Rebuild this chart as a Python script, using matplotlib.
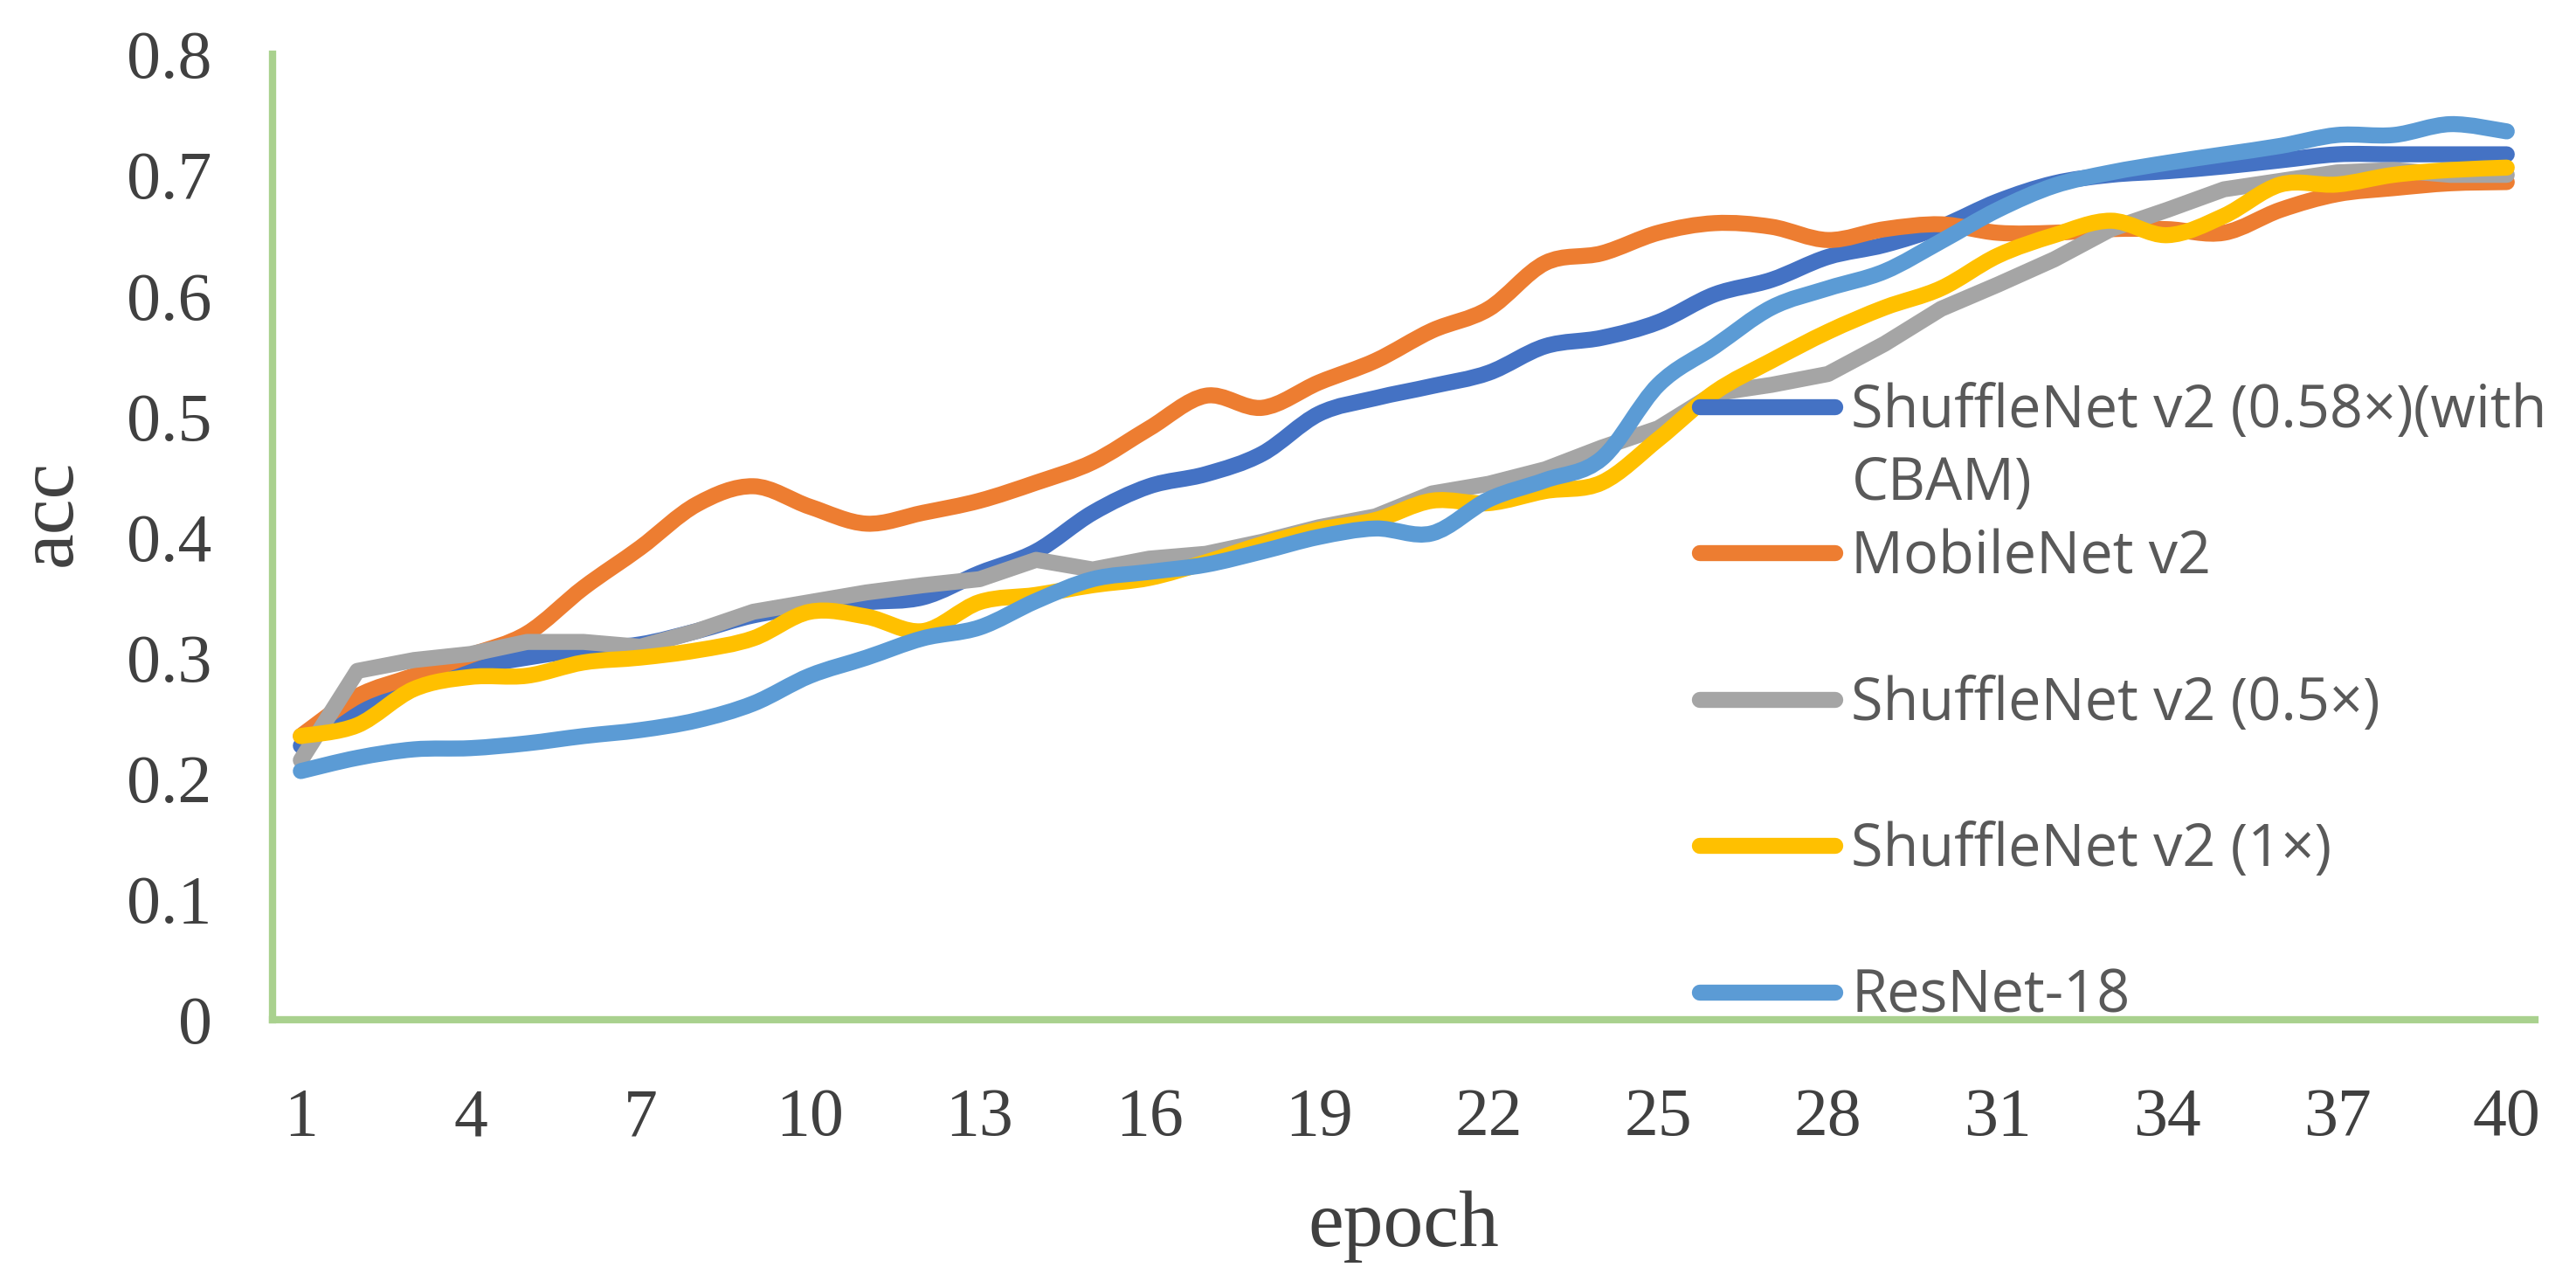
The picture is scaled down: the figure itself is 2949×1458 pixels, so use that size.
import matplotlib
matplotlib.use('Agg')
import matplotlib.pyplot as plt
from matplotlib.path import Path
from matplotlib.patches import PathPatch
from matplotlib.lines import Line2D
from matplotlib.font_manager import FontProperties

epochs = list(range(1, 41))

labels = ['ShuffleNet v2 (0.58×)(with', 'MobileNet v2', 'ShuffleNet v2 (0.5×)',
          'ShuffleNet v2 (1×)', 'ResNet-18']
colors = ['#4472C4', '#ED7D31', '#A5A5A5', '#FFC000', '#5B9BD5']

cbam = [0.227, 0.258, 0.282, 0.292, 0.300, 0.307, 0.311, 0.322, 0.335, 0.342,
        0.346, 0.350, 0.370, 0.388, 0.420, 0.442, 0.452, 0.469, 0.502, 0.515,
        0.525, 0.536, 0.558, 0.565, 0.578, 0.601, 0.613, 0.632, 0.642, 0.657,
        0.678, 0.693, 0.700, 0.703, 0.707, 0.712, 0.717, 0.717, 0.717, 0.717]
mobilenet = [0.235, 0.268, 0.285, 0.302, 0.320, 0.358, 0.391, 0.427, 0.442, 0.425,
             0.411, 0.420, 0.430, 0.445, 0.462, 0.490, 0.517, 0.507, 0.528, 0.546,
             0.571, 0.589, 0.627, 0.635, 0.652, 0.660, 0.657, 0.646, 0.655, 0.659,
             0.652, 0.652, 0.655, 0.655, 0.652, 0.671, 0.684, 0.689, 0.693, 0.694]
shuffle05 = [0.215, 0.289, 0.298, 0.303, 0.313, 0.313, 0.309, 0.322, 0.338, 0.346,
             0.354, 0.360, 0.365, 0.381, 0.373, 0.382, 0.386, 0.396, 0.408, 0.417,
             0.436, 0.444, 0.456, 0.474, 0.490, 0.519, 0.526, 0.535, 0.560, 0.589,
             0.609, 0.630, 0.655, 0.671, 0.688, 0.695, 0.702, 0.704, 0.700, 0.700]
shuffle1 = [0.235, 0.244, 0.274, 0.284, 0.285, 0.296, 0.300, 0.306, 0.316, 0.338,
            0.334, 0.322, 0.346, 0.352, 0.360, 0.366, 0.379, 0.394, 0.406, 0.414,
            0.430, 0.428, 0.438, 0.445, 0.481, 0.520, 0.546, 0.570, 0.590, 0.606,
            0.633, 0.650, 0.662, 0.650, 0.666, 0.692, 0.692, 0.700, 0.704, 0.706]
resnet = [0.206, 0.217, 0.224, 0.225, 0.229, 0.235, 0.240, 0.248, 0.262, 0.285,
          0.300, 0.316, 0.325, 0.347, 0.365, 0.371, 0.377, 0.388, 0.400, 0.407,
          0.403, 0.431, 0.447, 0.465, 0.526, 0.558, 0.590, 0.606, 0.620, 0.645,
          0.671, 0.691, 0.702, 0.710, 0.717, 0.724, 0.733, 0.733, 0.742, 0.736]

series = [cbam, mobilenet, shuffle05, shuffle1, resnet]
smooth = [True, True, False, True, True]


def line_path(xs, ys, curved=True):
    # Excel style smoothed line: cubic bezier through the points
    pts = list(zip(xs, ys))
    verts = [pts[0]]
    codes = [Path.MOVETO]
    n = len(pts)
    for i in range(n - 1):
        if not curved:
            verts.append(pts[i + 1])
            codes.append(Path.LINETO)
            continue
        p0 = pts[i - 1] if i > 0 else pts[i]
        p1 = pts[i]
        p2 = pts[i + 1]
        p3 = pts[i + 2] if i + 2 < n else pts[i + 1]
        c1 = (p1[0] + (p2[0] - p0[0]) / 6, p1[1] + (p2[1] - p0[1]) / 6)
        c2 = (p2[0] - (p3[0] - p1[0]) / 6, p2[1] - (p3[1] - p1[1]) / 6)
        verts += [c1, c2, p2]
        codes += [Path.CURVE4] * 3
    return Path(verts, codes)


fig = plt.figure(figsize=(29.49, 14.58), dpi=100)
ax = fig.add_axes([0.1058, 0.1996, 0.8783, 0.7579])

lw = 13.2
for vals, col, sm in zip(series, colors, smooth):
    patch = PathPatch(line_path(epochs, vals, sm), facecolor='none', edgecolor=col,
                      linewidth=lw, capstyle='round', joinstyle='round')
    ax.add_patch(patch)

ax.set_xlim(0.5, 40.5)
ax.set_ylim(0, 0.8)

serif = 'Liberation Serif'
text_col = '#404040'
ax.set_xticks(list(range(1, 41, 3)))
ax.set_yticks([i / 10 for i in range(9)])
ax.set_yticklabels(['0'] + ['0.%d' % i for i in range(1, 9)])
ax.tick_params(length=0, labelsize=56, labelcolor=text_col)
ax.tick_params(axis='x', pad=56)
ax.tick_params(axis='y', pad=50)
for lab in ax.get_xticklabels() + ax.get_yticklabels():
    lab.set_family(serif)

for side in ['top', 'right']:
    ax.spines[side].set_visible(False)
for side in ['left', 'bottom']:
    ax.spines[side].set_color('#A9D18E')
    ax.spines[side].set_linewidth(6)

ax.set_xlabel('epoch', fontsize=66, family=serif, color=text_col)
ax.xaxis.set_label_coords(0.5, -0.177)
ax.set_ylabel('acc', fontsize=66, family=serif, color=text_col)
ax.yaxis.set_label_coords(-0.082, 0.525)

handles = [Line2D([], [], color=c, linewidth=lw, solid_capstyle='round') for c in colors]
leg_font = FontProperties(family='Open Sans', size=48)
leg = ax.legend(handles, labels, loc='upper left', bbox_to_anchor=(0.6599, 0.7000),
                bbox_transform=fig.transFigure, frameon=False, borderpad=0,
                borderaxespad=0, handlelength=2.33, handletextpad=0.27,
                labelspacing=1.50, prop=leg_font)
for t in leg.get_texts():
    t.set_color('#595959')

# second line of the first legend label
fig.canvas.draw()
bb = leg.get_texts()[0].get_window_extent()
fig.text(bb.x0 / fig.bbox.width, (bb.y0 - 83) / fig.bbox.height, 'CBAM)',
         fontproperties=leg_font, color='#595959', va='bottom', ha='left')

fig.savefig('out.png', dpi=100)
